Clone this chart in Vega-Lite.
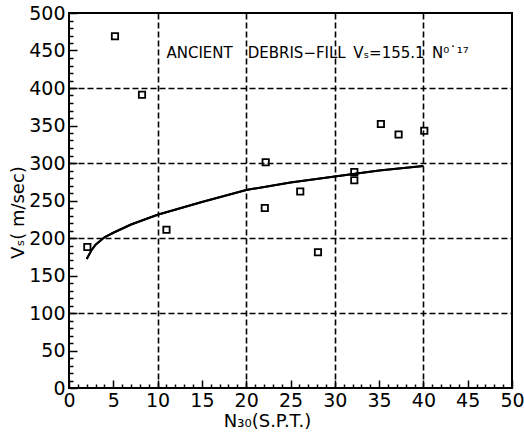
{
  "$schema": "https://vega.github.io/schema/vega-lite/v6.json",
  "width": 443,
  "height": 375,
  "autosize": {"type": "none"},
  "padding": {"left": 69, "top": 13, "right": 12, "bottom": 45},
  "background": "white",
  "config": {
    "view": {"stroke": "black", "strokeWidth": 2},
    "font": "DejaVu Sans",
    "axis": {"labelFont": "DejaVu Sans", "titleFont": "DejaVu Sans", "labelColor": "black", "titleColor": "black", "domainColor": "black", "tickColor": "black", "gridColor": "black"}
  },
  "datasets": {
    "pts": [
      {"n": 2.07, "v": 188},
      {"n": 5.19, "v": 469},
      {"n": 8.24, "v": 391},
      {"n": 11.0, "v": 211},
      {"n": 22.2, "v": 301},
      {"n": 22.1, "v": 240},
      {"n": 26.1, "v": 262},
      {"n": 28.1, "v": 181},
      {"n": 32.2, "v": 288},
      {"n": 32.2, "v": 277},
      {"n": 35.2, "v": 352},
      {"n": 37.2, "v": 338},
      {"n": 40.1, "v": 343}
    ],
    "fit": [
      {"n": 2, "v": 172},
      {"n": 2.5, "v": 183},
      {"n": 3, "v": 191},
      {"n": 4, "v": 201},
      {"n": 5, "v": 207},
      {"n": 7, "v": 218},
      {"n": 10, "v": 231},
      {"n": 15, "v": 248},
      {"n": 20, "v": 264},
      {"n": 25, "v": 274},
      {"n": 30, "v": 282},
      {"n": 35, "v": 290},
      {"n": 40, "v": 296}
    ],
    "note": [
      {"n": 11.0, "v": 447, "label": "ANCIENT\u2003DEBRIS−FILL\u2002Vₛ=155.1\u2002N⁰˙¹⁷"}
    ]
  },
  "resolve": {"axis": {"x": "independent", "y": "independent"}},
  "layer": [
    {
      "data": {"name": "fit"},
      "mark": {"type": "line", "color": "black", "strokeWidth": 2},
      "encoding": {
        "x": {"field": "n", "type": "quantitative", "scale": {"domain": [0, 50], "nice": false},
          "axis": {"orient": "bottom", "values": [10, 20, 30, 40], "grid": true, "gridDash": [6, 3], "gridWidth": 1.6, "ticks": false, "labels": false, "domain": false, "title": null}},
        "y": {"field": "v", "type": "quantitative", "scale": {"domain": [0, 500], "nice": false},
          "axis": {"orient": "left", "values": [100, 200, 300, 400], "grid": true, "gridDash": [6, 3], "gridWidth": 1.6, "ticks": false, "labels": false, "domain": false, "title": null}}
      }
    },
    {
      "data": {"name": "fit"},
      "mark": {"type": "line", "color": "black", "strokeWidth": 2},
      "encoding": {
        "x": {"field": "n", "type": "quantitative",
          "axis": {"orient": "bottom", "values": [1,2,3,4,6,7,8,9,11,12,13,14,16,17,18,19,21,22,23,24,26,27,28,29,31,32,33,34,36,37,38,39,41,42,43,44,46,47,48,49], "grid": false, "ticks": true, "tickSize": -4, "tickWidth": 1.5, "labels": false, "domain": false, "title": null}},
        "y": {"field": "v", "type": "quantitative",
          "axis": {"orient": "left", "values": [10,20,30,40,60,70,80,90,110,120,130,140,160,170,180,190,210,220,230,240,260,270,280,290,310,320,330,340,360,370,380,390,410,420,430,440,460,470,480,490], "grid": false, "ticks": true, "tickSize": -4, "tickWidth": 1.5, "labels": false, "domain": false, "title": null}}
      }
    },
    {
      "data": {"name": "pts"},
      "mark": {"type": "point", "shape": "square", "filled": false, "color": "black", "size": 40, "strokeWidth": 1.8, "opacity": 1},
      "encoding": {
        "x": {"field": "n", "type": "quantitative",
          "axis": {"orient": "bottom", "values": [0,5,10,15,20,25,30,35,40,45,50], "grid": false, "ticks": true, "tickSize": -8, "tickWidth": 1.5, "domain": false, "labelFontSize": 19, "labelPadding": 11, "labelFlush": false, "labelOverlap": false,
            "title": "N₃₀(S.P.T.)", "titleFontSize": 18, "titleFontWeight": "normal", "titleX": 198, "titleY": 38, "titleBaseline": "alphabetic", "titleAnchor": "middle"}},
        "y": {"field": "v", "type": "quantitative",
          "axis": {"orient": "left", "values": [0,50,100,150,200,250,300,350,400,450,500], "grid": false, "ticks": true, "tickSize": -8, "tickWidth": 1.5, "domain": false, "labelFontSize": 19, "labelPadding": 12, "labelFlush": false, "labelOverlap": false,
            "title": "Vₛ( m/sec)", "titleFontSize": 18, "titleFontWeight": "normal", "titleX": -42, "titleY": 199, "titleAnchor": "middle"}}
      }
    },
    {
      "data": {"name": "note"},
      "mark": {"type": "text", "align": "left", "baseline": "middle", "fontSize": 15, "color": "black", "font": "DejaVu Sans"},
      "encoding": {
        "x": {"field": "n", "type": "quantitative", "axis": null},
        "y": {"field": "v", "type": "quantitative", "axis": null},
        "text": {"field": "label"}
      }
    }
  ]
}
